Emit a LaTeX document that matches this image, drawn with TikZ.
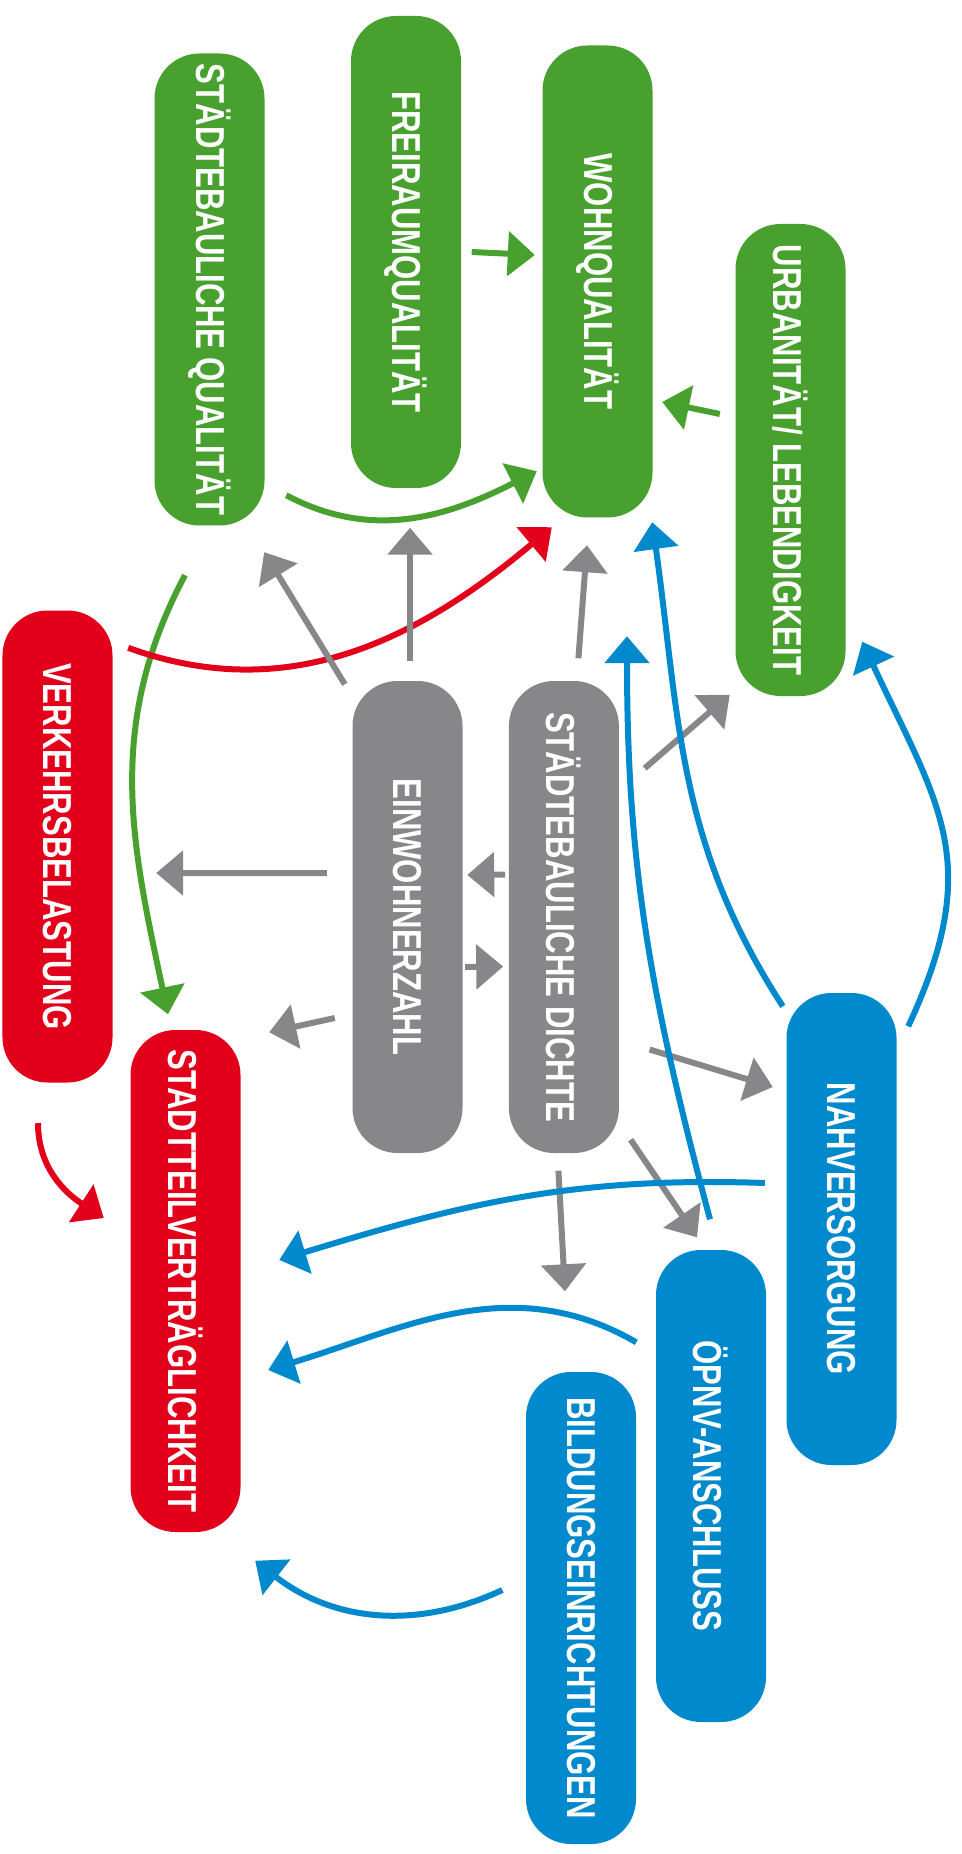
\documentclass[tikz,border=0pt]{standalone}
\usepackage{fontspec}
\newfontfamily\boxfont{Liberation Sans}[FakeStretch=0.77]
\usetikzlibrary{positioning,calc,arrows.meta}
\definecolor{qgreen}{RGB}{72,160,46}
\definecolor{qred}{RGB}{226,0,26}
\definecolor{qgray}{RGB}{135,135,137}
\definecolor{qblue}{RGB}{0,137,204}
\newcommand{\lbl}[1]{\rotatebox{-90}{#1}}

\begin{document}
\begin{tikzpicture}[
  kasten/.style={rounded corners=0.45cm, minimum width=1.1cm, minimum height=4.72cm,
    inner sep=0pt, text=white, font=\boxfont\bfseries\fontsize{11.5}{12}\selectfont},
  greenbox/.style={kasten, fill=qgreen},
  redbox/.style={kasten, fill=qred},
  graybox/.style={kasten, fill=qgray},
  bluebox/.style={kasten, fill=qblue},
  pfeil/.style={line width=0.06cm, -{Triangle[length=0.27cm, width=0.44cm]}},
  greenarr/.style={pfeil, qgreen},
  redarr/.style={pfeil, qred},
  grayarr/.style={pfeil, qgray},
  bluearr/.style={pfeil, qblue}
]
\useasboundingbox (0,0) rectangle (9.61,-18.54);

 \node[greenbox] (sq) at (2.095,-2.895) {\lbl{STÄDTEBAULICHE QUALITÄT}};
 \node[greenbox] (fq) at (4.06,-2.52) {\lbl{FREIRAUMQUALITÄT}};
 \node[greenbox] (wq) at (5.975,-2.815) {\lbl{WOHNQUALITÄT}};
 \node[greenbox] (uq) at (7.905,-4.60) {\lbl{URBANITÄT/ LEBENDIGKEIT}};
 \node[redbox] (vb) at (0.575,-8.465) {\lbl{VERKEHRSBELASTUNG}};
 \node[redbox, minimum height=5.02cm] (sv) at (1.855,-12.81) {\lbl{STADTTEILVERTRÄGLICHKEIT}};
 \node[graybox] (ez) at (4.075,-9.17) {\lbl{EINWOHNERZAHL}};
 \node[graybox, right=0.45cm of ez] (sd) {\lbl{STÄDTEBAULICHE DICHTE}};
 \node[bluebox] (nv) at (8.415,-12.29) {\lbl{NAHVERSORGUNG}};
 \node[bluebox] (oe) at (7.11,-14.86) {\lbl{ÖPNV-ANSCHLUSS}};
 \node[bluebox] (be) at (5.81,-16.08) {\lbl{BILDUNGSEINRICHTUNGEN}};

 \draw[greenarr] ([xshift=0.1cm]fq.east) -- ([shift={(-0.07,0.265)}]wq.west);
 \draw[greenarr] ([shift={(-0.15,0.46)}]uq.west) -- ([shift={(0.09,-1.205)}]wq.east);
 \draw[greenarr] ([shift={(0.21,0.31)}]sq.south east) to[out=-28,in=207] ([shift={(-0.05,0.47)}]wq.south west);
 \draw[greenarr] ([shift={(-0.245,-0.49)}]sq.south) to[out=-118,in=102] ([shift={(-0.175,0.15)}]sv.north);

 \draw[redarr] ([shift={(0.15,-0.38)}]vb.north east) to[out=-20,in=220] ([shift={(0.1,-0.09)}]wq.south west);
 \draw[redarr] ([shift={(-0.195,-0.4)}]vb.south) to[out=-90,in=147] ([shift={(-0.26,0.63)}]sv.west);

 \draw[grayarr] ([shift={(-0.07,-0.04)}]ez.north west) -- ([shift={(-0.01,-0.26)}]sq.south east);
 \draw[grayarr] ([shift={(0.025,0.19)}]ez.north) -- ([shift={(0.04,-0.39)}]fq.south);
 \draw[grayarr] ([shift={(-0.25,0.44)}]ez.west) -- ([shift={(0.43,-0.265)}]vb.east);
 \draw[grayarr] ([shift={(-0.17,-1.01)}]ez.west) -- ([shift={(0.28,-0.03)}]sv.north east);
 \draw[grayarr] ([shift={(-0.03,0.425)}]sd.west) -- ([shift={(0.04,0.42)}]ez.east);
 \draw[grayarr] ([shift={(0.02,-0.5)}]ez.east) -- ([shift={(-0.05,-0.495)}]sd.west);
 \draw[grayarr] ([shift={(0.145,0.22)}]sd.north) -- ([shift={(-0.105,-0.27)}]wq.south);
 \draw[grayarr] ([shift={(0.25,-0.88)}]sd.north east) -- ([shift={(-0.05,0.02)}]uq.south west);
 \draw[grayarr] ([shift={(0.3,-1.325)}]sd.east) -- ([shift={(-0.13,1.42)}]nv.west);
 \draw[grayarr] ([shift={(0.11,0.14)}]sd.south east) -- ([shift={(-0.14,0.12)}]oe.north);
 \draw[grayarr] ([shift={(-0.055,-0.17)}]sd.south) -- ([shift={(-0.16,0.8)}]be.north);

 \draw[bluearr] ([shift={(0.11,-0.34)}]nv.north east) to[out=65,in=-65,looseness=1.2] ([shift={(0.16,0.55)}]uq.south east);
 \draw[bluearr] ([shift={(-0.03,-0.14)}]nv.north west) to[out=123,in=-82] ([shift={(-0.01,-0.04)}]wq.south east);
 \draw[bluearr] ([shift={(-0.01,0.3)}]oe.north) to[out=105,in=-90] ([shift={(0.295,-1.18)}]wq.south);
 \draw[bluearr] ([shift={(-0.21,0.46)}]nv.west) to[out=178,in=17] ([shift={(0.38,0.21)}]sv.east);
 \draw[bluearr] ([shift={(-0.19,-0.93)}]oe.north west) to[out=150,in=17] ([shift={(0.27,-0.89)}]sv.east);
 \draw[bluearr] ([shift={(-0.23,0.18)}]be.west) to[out=205,in=-38] ([shift={(0.14,-0.28)}]sv.south east);
\end{tikzpicture}
\end{document}
